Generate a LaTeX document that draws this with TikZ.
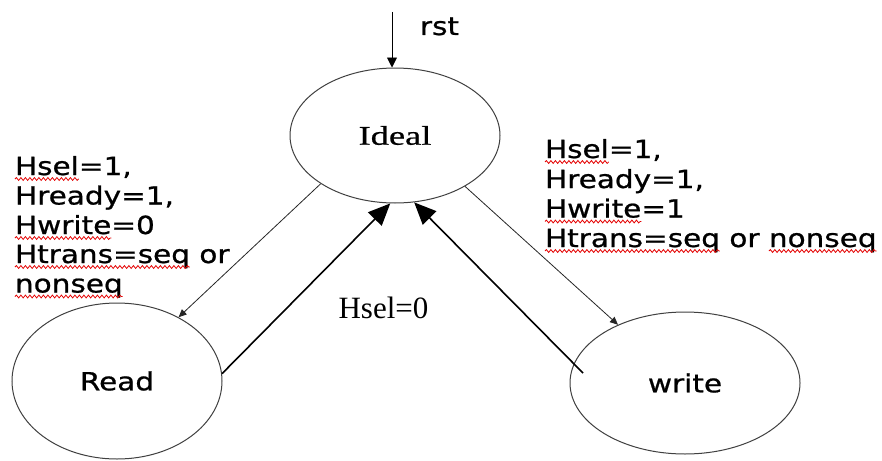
\documentclass[tikz,border=0pt]{standalone}
\usepackage{fontspec}
\setmainfont{Liberation Serif}
\newfontfamily\lblfont[FakeStretch=1.18,FakeBold=0.8]{DejaVu Sans}
\newfontfamily\statefont[FakeStretch=1.35,FakeBold=0.6]{Liberation Serif}
\usetikzlibrary{shapes.geometric, arrows.meta, decorations.pathmorphing, calc}

\begin{document}
\begin{tikzpicture}[x=1pt, y=-1pt,
  state/.style={ellipse, draw=black!75, line width=1pt, inner sep=0pt,
                font=\lblfont\fontsize{25}{30}\selectfont},
  lbl/.style={font=\lblfont\fontsize{25}{30}\selectfont, anchor=base west,
              inner sep=0pt, outer sep=0pt},
  spell/.style={draw=red!90!black, line width=0.8pt, decorate,
                decoration={snake, amplitude=1.4pt, segment length=4.5pt}},
  thinarrow/.style={draw=black!85, line width=0.8pt,
                    -{Triangle[length=8pt,width=7pt]}},
  bigarrow/.style={draw=black, line width=1.6pt,
                   -{Triangle[length=22pt,width=19pt]}},
  rstarrow/.style={draw=black, line width=0.9pt,
                   -{Triangle[length=10pt,width=10pt]}}
]
  % canvas
  \fill[white] (0,0) rectangle (882,460);
  \useasboundingbox (0,0) rectangle (882,460);

  % states
  \node[state, minimum width=210pt, minimum height=135pt,
        font=\statefont\fontsize{27}{30}\selectfont] (ideal) at (395,135.5) {Ideal};
  \node[state, minimum width=210pt, minimum height=156pt] (read) at (117,381) {Read};
  \node[state, minimum width=230pt, minimum height=142pt] (write) at (685,383) {write};

  % reset entry
  \coordinate (rsttop) at (392,12);
  \draw[rstarrow] (rsttop) -- (rsttop |- ideal.north);
  \node[lbl] (rst) at (420,35) {rst};

  % transitions
  \draw[thinarrow] (ideal.213.8) -- (read.46.4);
  \draw[bigarrow] (read.4.4) -- (ideal.-94);
  \draw[thinarrow] (ideal.-36.9) -- (write.139.1);
  \coordinate (wstart) at (583,373);
  \draw[bigarrow] (wstart) -- (ideal.-74.2);

  \node[font=\fontsize{31}{34}\selectfont, anchor=base, inner sep=0pt] (hsel0) at (383.5,318) {Hsel=0};

  % read condition
  \node[lbl] (l1) at (15,175) {Hsel};
  \node[lbl] (l1b) at (l1.base east) {=1,};
  \node[lbl] (l2) at (15,204.5) {Hready=1,};
  \node[lbl] (l3) at (15,234) {Hwrite};
  \node[lbl] (l3b) at (l3.base east) {=0};
  \node[lbl] (l4) at (15,263) {Htrans=seq};
  \node[lbl] (l4b) at (l4.base east) {~or};
  \node[lbl] (l5) at (15,292.5) {nonseq};

  % write condition
  \node[lbl] (r1) at (545,158) {Hsel};
  \node[lbl] (r1b) at (r1.base east) {=1,};
  \node[lbl] (r2) at (545,188) {Hready=1,};
  \node[lbl] (r3) at (545,217.5) {Hwrite};
  \node[lbl] (r3b) at (r3.base east) {=1};
  \node[lbl] (r4) at (545,247) {Htrans=seq};
  \node[lbl] (r4b) at (r4.base east) {~or~\null};
  \node[lbl] (r4c) at (r4b.base east) {nonseq};

  % spelling marks
  \foreach \w in {l1,l3,l4,l5,r1,r3,r4,r4c}
    \draw[spell] ([yshift=-4pt]\w.base west) -- ([yshift=-4pt]\w.base east);
\end{tikzpicture}
\end{document}
